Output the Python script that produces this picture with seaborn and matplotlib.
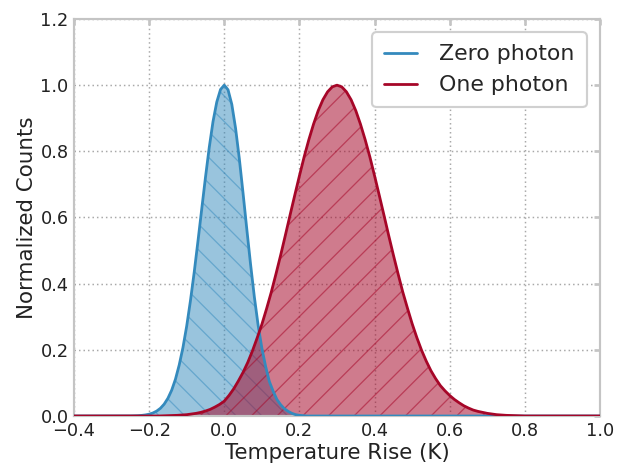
import matplotlib
matplotlib.use("Agg")
import matplotlib.pyplot as plt
import numpy as np
import pandas as pd
import seaborn as sns

# ---------------- data ----------------
zero_x = [-0.40,
          -0.25, -0.24, -0.23, -0.22, -0.21, -0.20, -0.19, -0.18, -0.17, -0.16,
          -0.15, -0.14, -0.13, -0.12, -0.11, -0.10, -0.09, -0.08, -0.07, -0.06,
          -0.05, -0.04, -0.03, -0.02, -0.01, 0.00, 0.01, 0.02, 0.03, 0.04,
          0.05, 0.06, 0.07, 0.08, 0.09, 0.10, 0.11, 0.12, 0.13, 0.14,
          0.15, 0.16, 0.17, 0.18, 0.19, 0.20, 0.21, 0.22,
          1.00]
zero_y = [0.000,
          0.0003, 0.0006, 0.001, 0.0018, 0.0032, 0.0055, 0.0091, 0.0148, 0.0233, 0.0358,
          0.0536, 0.078, 0.111, 0.154, 0.207, 0.272, 0.349, 0.435, 0.529, 0.626,
          0.722, 0.812, 0.890, 0.949, 0.987, 1.000, 0.986, 0.942, 0.870, 0.778,
          0.673, 0.564, 0.458, 0.360, 0.275, 0.205, 0.150, 0.104, 0.075, 0.050,
          0.034, 0.022, 0.014, 0.008, 0.004, 0.002, 0.001, 0.000,
          0.000]

one_x = [-0.40,
         -0.2000, -0.1875, -0.1750, -0.1625, -0.1500, -0.1375, -0.1250, -0.1125,
         -0.1000, -0.0875, -0.0750, -0.0625, -0.0500, -0.0375, -0.0250, -0.0125,
         0.0000, 0.0125, 0.0250, 0.0375, 0.0500, 0.0625, 0.0750, 0.0875,
         0.1000, 0.1125, 0.1250, 0.1375, 0.1500, 0.1625, 0.1750, 0.1875,
         0.2000, 0.2125, 0.2250, 0.2375, 0.2500, 0.2625, 0.2750, 0.2875,
         0.3000, 0.3125, 0.3250, 0.3375, 0.3500, 0.3625, 0.3750, 0.3875,
         0.4000, 0.4125, 0.4250, 0.4375, 0.4500, 0.4625, 0.4750, 0.4875,
         0.5000, 0.5125, 0.5250, 0.5375, 0.5500, 0.5625, 0.5750, 0.5875,
         0.6000, 0.6125, 0.6250, 0.6375, 0.6500, 0.6625, 0.6750, 0.6875,
         0.7000, 0.7125, 0.7250, 0.7375, 0.7500, 0.7625, 0.7750, 0.7875,
         0.8000,
         1.00]
one_y = [0.000,
         0.000, 0.000, 0.000, 0.0005, 0.001, 0.0015, 0.002, 0.003,
         0.004, 0.006, 0.008, 0.011, 0.015, 0.020, 0.027, 0.035,
         0.045, 0.062, 0.082, 0.106, 0.132, 0.162, 0.197, 0.236,
         0.277, 0.324, 0.374, 0.429, 0.486, 0.546, 0.607, 0.667,
         0.726, 0.783, 0.835, 0.882, 0.923, 0.956, 0.980, 0.995,
         1.000, 0.995, 0.980, 0.956, 0.923, 0.882, 0.835, 0.783,
         0.726, 0.667, 0.607, 0.546, 0.487, 0.430, 0.375, 0.326,
         0.279, 0.237, 0.199, 0.166, 0.137, 0.113, 0.092, 0.076,
         0.062, 0.050, 0.040, 0.031, 0.024, 0.018, 0.014, 0.011,
         0.008, 0.006, 0.004, 0.003, 0.002, 0.0015, 0.001, 0.0005,
         0.000,
         0.000]

series_names = ["Zero photon", "One photon"]
series_colors = ["#348ABD", "#A60628"]
x_ticks = [-0.4, -0.2, 0.0, 0.2, 0.4, 0.6, 0.8, 1.0]
y_ticks = [0.0, 0.2, 0.4, 0.6, 0.8, 1.0, 1.2]

# ---------------- style ----------------
sns.set_theme(style="white")
plt.rcParams["font.family"] = ["DejaVu Sans"]
plt.rcParams["hatch.linewidth"] = 0.6
plt.rcParams["axes.unicode_minus"] = True

DPI = 154
W, H = 622, 468
fig = plt.figure(figsize=(W / DPI, H / DPI), dpi=DPI)
fig.patch.set_facecolor("white")
ax = fig.add_axes([74 / W, 1 - 416 / H, (600 - 74) / W, (416 - 19) / H])

df = pd.concat([
    pd.DataFrame({"x": zero_x, "y": zero_y, "series": series_names[0]}),
    pd.DataFrame({"x": one_x, "y": one_y, "series": series_names[1]}),
], ignore_index=True)

palette = dict(zip(series_names, series_colors))
hatches = ["\\\\", "//"]
alphas = [0.5, 0.53]
for name, col, hat, al in zip(series_names, series_colors, hatches, alphas):
    sub = df[df["series"] == name]
    ax.fill_between(sub["x"], sub["y"], 0, facecolor=col, edgecolor=col,
                    hatch=hat, alpha=al, linewidth=0, zorder=1)

sns.lineplot(data=df, x="x", y="y", hue="series", palette=palette,
             estimator=None, sort=False, linewidth=1.3, ax=ax, zorder=3)
for ln in ax.get_lines():
    ln.set_solid_joinstyle("round")

ax.set_xlim(-0.4, 1.0)
ax.set_ylim(0.0, 1.2)
ax.set_xticks(x_ticks)
ax.set_yticks(y_ticks)
ax.set_xticklabels([f"{v:.1f}".replace("-", "\u2212") for v in x_ticks])
ax.set_yticklabels([f"{v:.1f}" for v in y_ticks])

ax.grid(True, linestyle=(0, (1, 2)), color="#a8a8a8", linewidth=0.7)
ax.set_axisbelow(True)
for sp in ax.spines.values():
    sp.set_color("#c4c4c4")
    sp.set_linewidth(1.0)

ax.tick_params(axis="both", direction="in", top=True, right=True, length=3,
               color="#c4c4c4", labelsize=8.3, labelcolor="#222222")
ax.tick_params(axis="y", pad=2.5)
ax.tick_params(axis="x", pad=3)

ax.set_xlabel("Temperature Rise (K)", fontsize=10, color="#222222", labelpad=1)
ax.set_ylabel("Normalized Counts", fontsize=10, color="#222222", labelpad=1.5)

handles, labels = ax.get_legend_handles_labels()
leg = ax.legend(handles, labels, loc="upper right", fontsize=10.3,
                handlelength=1.5, handletextpad=1.0, frameon=True, fancybox=True,
                framealpha=1.0, edgecolor="#d0d0d0", borderaxespad=0.6,
                borderpad=0.55)
for lh in leg.get_lines():
    lh.set_linewidth(1.3)

fig.savefig("out.png", dpi=DPI, facecolor="white")
